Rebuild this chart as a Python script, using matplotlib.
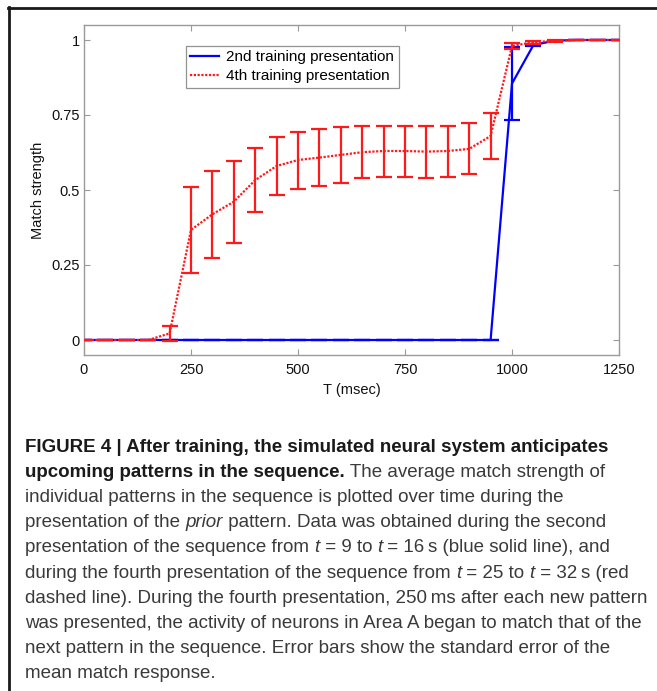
import numpy as np
import matplotlib
matplotlib.use("Agg")
import matplotlib.pyplot as plt
from matplotlib.lines import Line2D

# ---------------- data ----------------
t_ms = [0, 50, 100, 150, 200, 250, 300, 350, 400, 450, 500, 550, 600, 650,
        700, 750, 800, 850, 900, 950, 1000, 1050, 1100, 1150, 1200, 1250]

blue_mean = [0, 0, 0, 0, 0, 0, 0, 0, 0, 0, 0, 0, 0, 0,
             0, 0, 0, 0, 0, 0, 0.855, 0.983, 0.998, 1.0, 1.0, 1.0]
blue_err = [0, 0, 0, 0, 0, 0, 0, 0, 0, 0, 0, 0, 0, 0,
            0, 0, 0, 0, 0, 0, 0.122, 0.004, 0, 0, 0, 0]

red_mean = [0, 0, 0, 0, 0.022, 0.367, 0.419, 0.461, 0.533, 0.580, 0.600, 0.608,
            0.617, 0.626, 0.630, 0.630, 0.628, 0.630, 0.637, 0.680, 0.980,
            0.993, 0.997, 1.0, 1.0, 1.0]
red_err = [0, 0, 0, 0, 0.024, 0.144, 0.146, 0.137, 0.107, 0.097, 0.095, 0.094,
           0.092, 0.087, 0.085, 0.085, 0.087, 0.085, 0.085, 0.077, 0.010,
           0.005, 0.003, 0, 0, 0]

x_ticks = [0, 250, 500, 750, 1000, 1250]
y_ticks = [0, 0.25, 0.5, 0.75, 1]
y_ticklabels = ["0", "0.25", "0.5", "0.75", "1"]
legend_labels = ["2nd training presentation", "4th training presentation"]

caption_lines = [
    [("FIGURE 4 | After training, the simulated neural system anticipates", "b")],
    [("upcoming patterns in the sequence.", "b"), (" The average match strength of", "n")],
    [("individual patterns in the sequence is plotted over time during the", "n")],
    [("presentation of the ", "n"), ("prior", "i"), (" pattern. Data was obtained during the second", "n")],
    [("presentation of the sequence from ", "n"), ("t", "i"), (" = 9 to ", "n"), ("t", "i"),
     (" = 16\u2009s (blue solid line), and", "n")],
    [("during the fourth presentation of the sequence from ", "n"), ("t", "i"), (" = 25 to ", "n"),
     ("t", "i"), (" = 32\u2009s (red", "n")],
    [("dashed line). During the fourth presentation, 250\u2009ms after each new pattern", "n")],
    [("was presented, the activity of neurons in Area A began to match that of the", "n")],
    [("next pattern in the sequence. Error bars show the standard error of the", "n")],
    [("mean match response.", "n")],
]

# ---------------- figure ----------------
plt.rcParams['font.family'] = ['Liberation Sans', 'DejaVu Sans']
W, H = 657, 691
fig = plt.figure(figsize=(W / 100, H / 100), dpi=100)
fig.patch.set_facecolor("white")

ax = fig.add_axes([84 / W, 1 - 355 / H, 535 / W, 330 / H])

blue_c = "#0000ff"
red_c = "#ff1a1a"
red_dash = (1.0, 0.7)

ax.errorbar(t_ms, blue_mean, yerr=blue_err, color=blue_c, lw=1.6,
            elinewidth=1.6, capsize=6, capthick=1.6, zorder=2)
eb = ax.errorbar(t_ms, red_mean, yerr=red_err, color=red_c, lw=1.6,
                 elinewidth=1.6, capsize=6, capthick=1.6, zorder=3)
eb[0].set_dashes(red_dash)

ax.set_xlim(0, 1250)
ax.set_ylim(-0.05, 1.05)
ax.set_xticks(x_ticks)
ax.set_xticklabels([str(v) for v in x_ticks])
ax.set_yticks(y_ticks)
ax.set_yticklabels(y_ticklabels)

gray = "#9a9a9a"
for s in ax.spines.values():
    s.set_color(gray)
    s.set_linewidth(1.0)
ax.tick_params(direction="in", length=4, width=0.8, color=gray, top=True, right=True,
               labelsize=10.5, labelcolor="#111111")
ax.tick_params(axis="x", pad=6)
ax.tick_params(axis="y", pad=3)

ax.set_xlabel("T (msec)", fontsize=10.5, color="#111111")
ax.set_ylabel("Match strength", fontsize=10.5, color="#111111")
ax.xaxis.set_label_coords(0.5, -0.085)
ax.yaxis.set_label_coords(-0.072, 0.5)

handles = [Line2D([], [], color=blue_c, lw=1.6),
           Line2D([], [], color=red_c, lw=1.6, dashes=red_dash)]
leg = ax.legend(handles, legend_labels, loc="upper left", bbox_to_anchor=(0.19, 0.937),
                borderaxespad=0, fontsize=11, frameon=True, fancybox=False, borderpad=0.3,
                labelspacing=0.3, handlelength=1.9, handletextpad=0.45)
leg.get_frame().set_edgecolor("#777777")
leg.get_frame().set_linewidth(0.9)

# ---------------- frame lines ----------------
fig.add_artist(Line2D([8 / W, 1.0], [1 - 8 / H, 1 - 8 / H], transform=fig.transFigure,
                      color="#1a1a1a", lw=2.0))
fig.add_artist(Line2D([9 / W, 9 / W], [0, 1 - 7 / H], transform=fig.transFigure,
                      color="#1a1a1a", lw=2.0))

# ---------------- caption ----------------
renderer = fig.canvas.get_renderer()
cap_size = 13.5
styles = {
    "b": dict(fontweight="bold", fontstyle="normal", color="#1a1a1a"),
    "n": dict(fontweight="normal", fontstyle="normal", color="#3a3a3a"),
    "i": dict(fontweight="normal", fontstyle="italic", color="#3a3a3a"),
}


def text_width(s, st):
    t1 = fig.text(0, 0, s + "|", fontsize=cap_size, **styles[st])
    t2 = fig.text(0, 0, "|", fontsize=cap_size, **styles[st])
    w = t1.get_window_extent(renderer).width - t2.get_window_extent(renderer).width
    t1.remove()
    t2.remove()
    return w


x0 = 25
y_base0 = 452
line_gap = 25.1
for i, segs in enumerate(caption_lines):
    x = x0
    yb = y_base0 + i * line_gap
    for s, st in segs:
        fig.text(x / W, 1 - yb / H, s, fontsize=cap_size, ha="left", va="baseline",
                 **styles[st])
        x += text_width(s, st)

fig.savefig("out.png", dpi=100, facecolor="white")
